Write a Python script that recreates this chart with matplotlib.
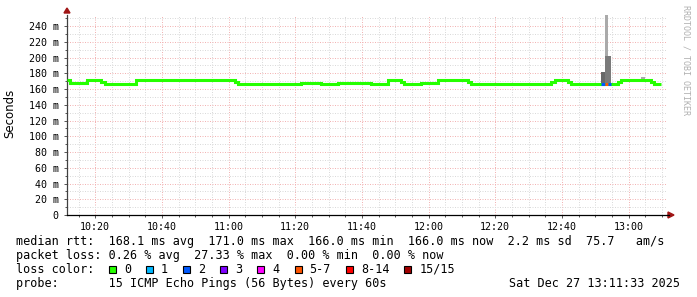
import matplotlib
matplotlib.use('Agg')
import matplotlib.pyplot as plt
from matplotlib.patches import Polygon, Rectangle
from matplotlib.ticker import MultipleLocator, FuncFormatter

# median rtt, one entry per step: start time, value (ms), lost pings out of 15
median_start = ['10:11:33', '10:12:27', '10:17:33', '10:21:45', '10:22:57', '10:32:15',
                '11:01:57', '11:02:45', '11:21:45', '11:27:36', '11:32:45', '11:42:45',
                '11:47:45', '11:51:45', '11:52:45', '11:57:45', '12:02:51', '12:11:45',
                '12:12:45', '12:36:45', '12:37:57', '12:41:45', '12:42:39', '12:51:45',
                '12:52:51', '12:53:57', '12:54:45', '12:56:57', '12:57:45', '13:06:45',
                '13:07:45']
median_ms = [171, 168, 171, 169, 166, 171,
             169, 166, 168, 166, 168, 166,
             171, 169, 166, 168, 171, 169,
             166, 169, 171, 169, 166, 166,
             166, 166, 166, 169, 171, 169,
             166]
median_loss = [0, 0, 0, 0, 0, 0,
               0, 0, 0, 0, 0, 0,
               0, 0, 0, 0, 0, 0,
               0, 0, 0, 0, 0, 2,
               5, 2, 0, 0, 0, 0,
               0]
median_end = '13:09:45'

# smoke (spread of the single pings)
smoke_start = ['12:51:45', '12:52:51', '12:52:51', '12:53:57', '13:03:45']
smoke_end = ['12:52:51', '12:53:57', '12:53:57', '12:54:45', '13:04:57']
smoke_lo = [166, 166, 202, 166, 172.5]
smoke_hi = [182, 202, 254, 202, 175.5]
smoke_level = [3, 2, 1, 2, 1]

loss_labels = ['0', '1', '2', '3', '4', '5-7', '8-14', '15/15']
loss_colors = ['#26ff00', '#00b8ff', '#0059ff', '#7e00ff', '#ff00ff', '#ff5500', '#ff0000', '#a10000']

t_first, t_last = '10:11:33', '13:11:33'
y_top = 254

legend_rtt = 'median rtt:  168.1 ms avg  171.0 ms max  166.0 ms min  166.0 ms now  2.2 ms sd  75.7   am/s'
legend_loss = 'packet loss: 0.26 % avg  27.33 % max  0.00 % min  0.00 % now'
legend_probe = 'probe:       15 ICMP Echo Pings (56 Bytes) every 60s'
stamp = 'Sat Dec 27 13:11:33 2025'


def tmin(s):
	h, m, sec = map(int, s.split(':'))
	return (h - 10) * 60 + m + sec / 60


def loss_idx(n):
	if n <= 4:
		return n
	if n <= 7:
		return 5
	if n <= 14:
		return 6
	return 7


W, H = 697, 297
fig = plt.figure(figsize=(W / 100, H / 100), dpi=100)
fig.patch.set_facecolor('white')
ax = fig.add_axes([67 / W, 1 - 215 / H, 600 / W, 200 / H])

mono = 'DejaVu Sans Mono'

# grid
ax.set_xlim(tmin(t_first), tmin(t_last))
ax.set_ylim(0, y_top)
ax.xaxis.set_major_locator(MultipleLocator(20))
ax.xaxis.set_minor_locator(MultipleLocator(5))
ax.yaxis.set_major_locator(MultipleLocator(20))
ax.yaxis.set_minor_locator(MultipleLocator(10))
ax.grid(which='minor', color='#dadada', linestyle=(0, (1, 1.5)), linewidth=0.72)
ax.grid(which='major', color='#f2b4b4', linestyle=(0, (1, 1.5)), linewidth=0.72)
ax.set_axisbelow(True)

ax.xaxis.set_major_formatter(FuncFormatter(lambda v, p: f'{10 + int(v) // 60}:{int(v) % 60:02d}'))
ax.yaxis.set_major_formatter(FuncFormatter(lambda v, p: f'{int(v)} m' if v else '0'))
ax.tick_params(which='both', length=2, width=0.7, color='#555555')
ax.tick_params(which='minor', length=1.5)
ax.tick_params(axis='x', pad=3, labelsize=7.2)
ax.tick_params(axis='y', pad=4, labelsize=7.2)
for lab in ax.get_xticklabels() + ax.get_yticklabels():
	lab.set_fontfamily(mono)

for s in ['top', 'right']:
	ax.spines[s].set_visible(False)
ax.spines['left'].set_color('#404040')
ax.spines['left'].set_linewidth(0.9)
ax.spines['bottom'].set_color('black')
ax.spines['bottom'].set_linewidth(0.9)

# smoke
greys = {1: '#aaaaaa', 2: '#7a7a7a', 3: '#686868'}
for a, b, lo, hi, lv in zip(smoke_start, smoke_end, smoke_lo, smoke_hi, smoke_level):
	ax.bar(tmin(a), hi - lo, width=tmin(b) - tmin(a), bottom=lo, align='edge',
		color=greys[lv], linewidth=0, zorder=2)

# median line
xs = [tmin(s) for s in median_start] + [tmin(median_end)]
ys = median_ms + [median_ms[-1]]
ax.step(xs, ys, where='post', color=loss_colors[0], linewidth=2.2, zorder=3,
	solid_capstyle='butt', solid_joinstyle='miter')
for i, n in enumerate(median_loss):
	if n > 0:
		ax.hlines(median_ms[i], xs[i], xs[i + 1], color=loss_colors[loss_idx(n)],
			linewidth=2.2, zorder=4, capstyle='butt')

# axis arrows
def px(x, y):
	return (x / W, 1 - y / H)

fig.patches.append(Polygon([px(64, 13), px(70, 13), px(67, 8)], closed=True,
	transform=fig.transFigure, color='#a01515'))
fig.patches.append(Polygon([px(668, 212), px(668, 218), px(674, 215)], closed=True,
	transform=fig.transFigure, color='#a01515'))
fig.lines.append(plt.Line2D([667 / W, 669 / W], [1 - 215 / H] * 2, color='black',
	linewidth=0.9, transform=fig.transFigure))

fig.text(10 / W, 1 - 113 / H, 'Seconds', rotation=90, ha='center', va='center',
	fontsize=8.5, family='DejaVu Sans')
fig.text(686 / W, 1 - 5 / H, 'RRDTOOL / TOBI OETIKER', rotation=270, ha='center', va='top',
	fontsize=6, family=mono, color='#b0b0b0')

# legend block
fs = 8.5
cw = 7.11
fig.text(16 / W, 1 - 241.5 / H, legend_rtt, ha='left', va='center', fontsize=fs, family=mono)
fig.text(16 / W, 1 - 255.5 / H, legend_loss, ha='left', va='center', fontsize=fs, family=mono)
fig.text(16 / W, 1 - 269.5 / H, 'loss color:', ha='left', va='center', fontsize=fs, family=mono)
x0 = 109
for lab, col in zip(loss_labels, loss_colors):
	fig.patches.append(Rectangle(px(x0, 272.5), 7 / W, 7 / H, transform=fig.transFigure,
		facecolor=col, edgecolor='black', linewidth=0.8))
	fig.text((x0 + 15) / W, 1 - 269.5 / H, lab, ha='left', va='center', fontsize=fs, family=mono)
	x0 += 30 + cw * len(lab)
fig.text(16 / W, 1 - 283.5 / H, legend_probe, ha='left', va='center', fontsize=fs, family=mono)
fig.text(680 / W, 1 - 283.5 / H, stamp, ha='right', va='center', fontsize=fs, family=mono)

fig.savefig('out.png', dpi=100)
